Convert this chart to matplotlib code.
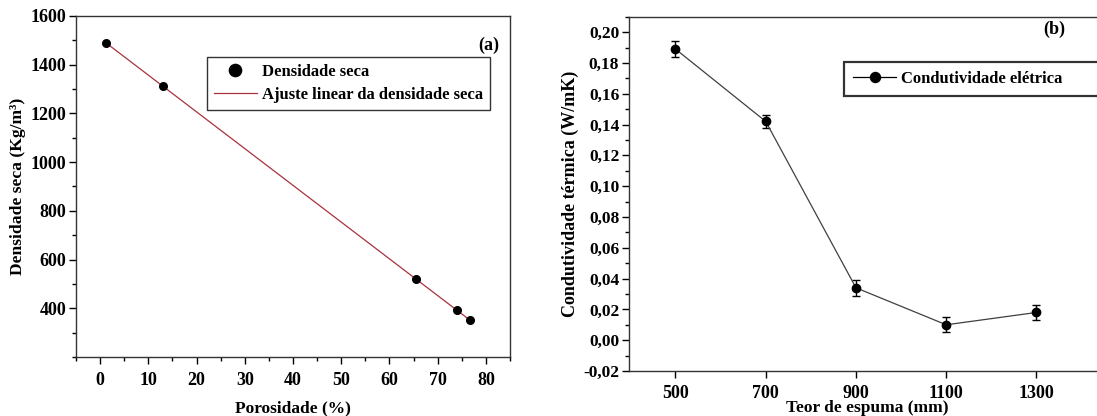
import matplotlib.pyplot as plt
from matplotlib.ticker import MultipleLocator
import numpy as np

plt.rcParams['font.family'] = ['Liberation Serif', 'DejaVu Serif']
plt.rcParams['font.weight'] = 'bold'

# (a) densidade seca x porosidade
poros = [1.2, 13.0, 65.5, 74.0, 76.7]
dens = [1490, 1312, 520, 393, 350]

# (b) condutividade x teor de espuma
espuma = [500, 700, 900, 1100, 1300]
cond = [0.189, 0.142, 0.034, 0.010, 0.018]
cond_err = [0.005, 0.0045, 0.005, 0.005, 0.005]

fs_tick = 13
fs_lab = 12.5
fs_leg = 12
fig = plt.figure(figsize=(10.97, 4.16), dpi=100)
W, H = 1097, 416

ax1 = fig.add_axes([76/W, 1-357/H, (510-76)/W, (357-16)/H])
a, b = np.polyfit(poros, dens, 1)
xf = np.array([poros[0], poros[-1]])
ax1.plot(poros, dens, 'o', color='black', ms=5.5, label='Densidade seca', zorder=3)
ax1.plot(xf, a*xf+b, color='#a8323e', lw=0.9, label='Ajuste linear da densidade seca')
ax1.set_xlim(-5, 85)
ax1.set_ylim(200, 1600)
ax1.set_xticks(range(0, 81, 10))
ax1.xaxis.set_minor_locator(MultipleLocator(5))
ax1.set_yticks(range(400, 1601, 200))
ax1.yaxis.set_minor_locator(MultipleLocator(100))
ax1.set_xlabel('Porosidade (%)', fontsize=fs_lab, fontweight='bold', labelpad=8)
ax1.set_ylabel('Densidade seca (Kg/m³)', fontsize=12.6, fontweight='bold', labelpad=3)
ax1.text(0.975, 0.915, '(a)', transform=ax1.transAxes, ha='right', va='center',
         fontsize=fs_tick, fontweight='bold')
leg1 = ax1.legend(loc='upper left', bbox_to_anchor=((207-76)/(510-76), (357-57)/(357-16)),
                  fontsize=fs_leg, frameon=True, fancybox=False, edgecolor='black',
                  borderpad=0.4, labelspacing=0.45, handlelength=2.6, handletextpad=0.3,
                  markerscale=1.6, borderaxespad=0)
leg1.get_frame().set_linewidth(1.0)

ax2 = fig.add_axes([629/W, 1-371/H, (1106-629)/W, (371-16.7)/H])
ax2.errorbar(espuma, cond, yerr=cond_err, fmt='-o', color='#404040', mfc='black', mec='black',
             ecolor='black', ms=6, lw=0.9, elinewidth=1.0, capsize=3, capthick=1.0,
             label='Condutividade elétrica')
ax2.set_xlim(397, 397 + (1106-629)/90.25*200)
ax2.set_ylim(-0.02, 0.21)
ax2.set_xticks(espuma)
ax2.set_yticks(np.arange(-0.02, 0.201, 0.02))
ax2.set_yticklabels([f'{v:.2f}'.replace('.', ',') for v in np.arange(-0.02, 0.201, 0.02)])
ax2.yaxis.set_minor_locator(MultipleLocator(0.01))
ax2.set_xlabel('Teor de espuma (mm)', fontsize=fs_lab, fontweight='bold', labelpad=-1)
ax2.set_ylabel('Condutividade térmica (W/mK)', fontsize=13, fontweight='bold', labelpad=3)
ax2.text(1340, 0.2015, '(b)', ha='center', va='center', fontsize=fs_tick, fontweight='bold')
h, l = ax2.get_legend_handles_labels()
h = [hh[0] for hh in h]
x0 = (843.7-629)/(1106-629)
y1 = (371-62)/(371-16.7)
y0 = (371-100)/(371-16.7)
leg2 = ax2.legend(h, l, loc='upper left', bbox_to_anchor=(x0, y0, (1112-843.7)/(1106-629), y1-y0),
                  mode='expand', fontsize=fs_leg, frameon=True, fancybox=False, edgecolor='black',
                  borderpad=0.55, handlelength=2.6, handletextpad=0.3, markerscale=1.2,
                  borderaxespad=0)
leg2.get_frame().set_linewidth(1.6)
for lh in leg2.get_lines():
    lh.set_color('black')

for ax in (ax1, ax2):
    for s in ax.spines.values():
        s.set_linewidth(1.0)
        s.set_color('#333333')
    ax.tick_params(which='both', direction='out', top=False, right=False, labelsize=fs_tick, width=1.0)
    ax.tick_params(which='major', length=5)
    ax.tick_params(which='minor', length=3)
    for t in ax.get_xticklabels() + ax.get_yticklabels():
        t.set_fontweight('bold')
ax1.tick_params(axis='x', pad=6)
ax2.tick_params(axis='x', pad=5)
ax1.tick_params(axis='y', pad=2)
ax2.tick_params(axis='y', pad=2, labelsize=12.5)

fig.savefig('out.png', dpi=100)
